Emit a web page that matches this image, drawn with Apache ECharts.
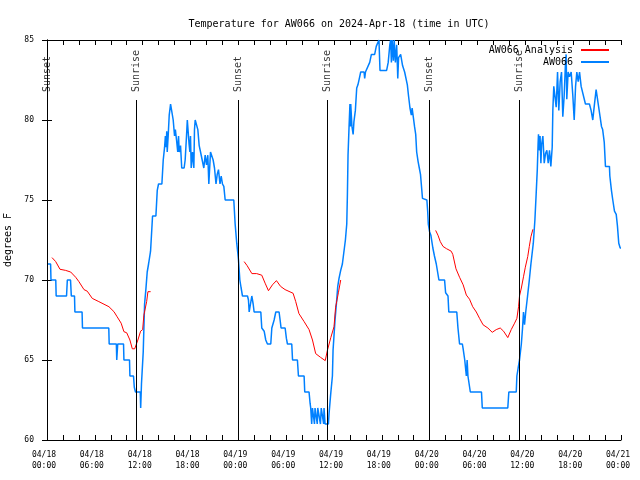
<!DOCTYPE html>
<html><head><meta charset="utf-8">
<script src="https://cdn.jsdelivr.net/npm/echarts@6/dist/echarts.min.js"></script>
<style>html,body{margin:0;padding:0;background:#fff}#c{width:640px;height:480px}</style>
</head><body><div id="c"></div>
<script>
// Hours since 04/18 00:00 UTC
const xTickLabels = ["04/18\n00:00","04/18\n06:00","04/18\n12:00","04/18\n18:00","04/19\n00:00","04/19\n06:00","04/19\n12:00","04/19\n18:00","04/20\n00:00","04/20\n06:00","04/20\n12:00","04/20\n18:00","04/21\n00:00"];
const sunEventHours = [0, 11.19, 23.95, 35.13, 48.0, 59.2];
const sunEventNames = ["Sunset","Sunrise","Sunset","Sunrise","Sunset","Sunrise"];

// AW066 observations
const obsHours = [0,0.45,0.5,1.1,1.15,2.45,2.55,2.95,3.05,3.45,3.5,4.4,4.45,7.75,7.8,8.7,8.75,8.82,8.87,9.6,9.65,10.35,10.4,10.85,10.95,11.1,11.7,11.75,11.85,12.07,12.24,12.4,12.57,12.74,12.99,13.16,13.24,13.66,13.83,13.99,14.41,14.58,14.75,14.85,14.95,15.02,15.08,15.2,15.33,15.5,15.75,15.83,16.0,16.1,16.25,16.4,16.5,16.58,16.75,16.9,17.2,17.33,17.5,17.6,17.75,17.82,17.92,18.0,18.09,18.25,18.42,18.5,18.59,18.76,18.92,19.09,19.26,19.51,19.67,19.84,20.01,20.17,20.3,20.51,20.76,20.84,21.01,21.2,21.35,21.51,21.7,21.85,22.01,22.18,22.35,23.43,23.6,23.8,23.93,24.02,
24.19,24.35,24.52,25.15,25.27,25.36,25.56,25.69,25.8,25.86,25.98,26.82,26.94,27.24,27.44,27.65,28.07,28.2,28.49,28.7,29.11,29.24,29.36,29.87,30.03,30.16,30.7,30.8,31.41,31.54,32.25,32.33,32.87,33.0,33.08,33.2,33.3,33.45,33.55,33.62,33.79,33.9,33.96,34.2,34.3,34.4,34.63,34.7,34.75,34.85,34.88,35.3,35.38,35.59,35.8,35.88,36.13,36.3,36.47,36.63,36.84,37.05,37.13,37.43,37.6,37.68,37.76,37.89,38.0,38.05,38.1,38.25,38.4,38.5,38.68,38.85,39.0,39.18,39.35,
39.77,39.85,39.95,40.2,40.48,40.69,41.1,41.3,41.5,41.64,41.77,42.6,42.8,43.0,43.1,43.2,43.3,43.45,43.55,43.7,43.86,43.95,44.0,44.1,44.36,44.6,44.86,45.2,45.35,45.53,45.7,45.8,45.95,46.1,46.25,46.37,46.55,46.7,46.85,46.95,47.1,47.65,47.75,47.83,48.0,48.15,48.4,48.6,48.83,49.16,49.87,50.0,50.3,50.4,51.4,51.55,51.75,52.1,52.2,52.4,52.6,52.7,52.8,53.1,54.5,54.6,57.8,57.93,58.86,58.94,59.1,59.27,59.5,59.65,59.77,59.9,60.05,60.28,60.5,60.7,61.0,61.2,61.36,61.5,61.6,61.65,61.78,61.85,61.95,62.05,62.2,62.37,62.53,62.7,62.87,63.03,63.2,63.37,63.45,63.57,63.7,63.87,64.04,64.2,64.37,64.54,64.7,64.87,65.04,65.12,65.2,65.37,65.54,65.75,65.96,66.13,66.3,66.46,66.63,66.8,67.0,67.2,67.54,68.04,68.25,68.46,68.63,68.88,69.05,69.2,69.38,69.55,69.7,69.9,70.05,70.55,70.6,70.8,70.97,71.18,71.4,71.55,71.72,71.9,72];
const obsTemps = [71,71,70,70,69,69,70,70,69,69,68,68,67,67,66,66,65,65,66,66,65,65,64,64,63.3,63,63,62,63.5,65.5,68.5,69.4,70.5,71,71.8,73.3,74,74,75.6,76,76,77.5,78.3,79,78.3,79.3,78,79,80.3,81,81,80,79,79.4,78.75,78,79,78,78.4,77,77,77.5,79,80,80,78.5,78,79,77,78,77,79.4,80,80,79.4,78.4,78,78,77,77.8,77.2,77.8,76,78,78,77.5,77,76,76.6,76.9,76,76.5,76,75.85,75,75,73.5,72.3,71.7,71.25,
70,69.5,69,69,68.75,68,68,69,69,68.5,68,68,67,66.8,66.25,66,66,67,67.5,68,68,67.5,67,67,66.35,66,66,65,65,64,64,63,63,62.3,62,61,62,62,61,62,62,61,62,62,61,62,62,61,62,62,61,61,61.65,62.9,64,65.6,67.5,68.5,69.6,70.1,70.6,71,71,72.5,73.5,75.3,77.8,79.6,81,79.6,81,79.6,79.1,79.9,80.6,82,82.2,82.6,83,
83,82.6,83,83,83.6,84.1,84.1,84.6,84.6,85,83.1,83.1,83.6,84.7,85,83.6,85,83.7,85,83.6,84.7,83.4,82.6,83.9,84.1,83.4,83.0,82.2,81.5,80.75,80.3,80.75,80.7,79.6,79.1,78.0,77.4,77.0,76.6,76.0,75.1,75,74.3,73.5,73,72.8,72,71.5,71,70,70,69.2,69,68,68,67,66,66,65.7,65,64,65,64,63,63,62,62,63,63,64,64.5,65,66,67,68,67.2,68,69,70,71,72.3,73.75,75.4,76.9,78.5,79.1,78.1,79,77.3,78.5,79,77.3,77.9,78.1,77.3,78.1,77.1,78.3,80.6,82.1,82.1,80.8,83.0,80.6,82.4,83.0,80.2,81.5,83.6,84.1,81.3,83.0,82.7,83.0,81.5,80.0,82.1,83.0,82.4,83.0,82.1,82.1,81.0,81.0,80.6,80.0,80.8,81.9,81.8,80.8,80.2,79.6,79.4,78.6,77.1,77.1,76.5,75.6,75,74.3,74.1,73.4,72.3,72.0,72];

// AW066 Analysis (null = gap)
const anaHours = [0.63,1.09,1.63,2.34,2.97,3.6,4.0,4.64,5.05,5.68,6.5,7.77,8.4,8.8,9.3,9.65,10.0,10.4,10.7,11.0,11.4,11.74,12.0,12.15,12.5,12.66,13.0,13.5,
24.73,25.1,25.7,26.3,26.94,27.36,27.78,28.28,28.78,29.3,29.86,30.87,31.2,31.6,32.25,32.87,33.3,33.7,34.3,34.9,35.17,35.6,36.0,36.2,36.55,36.84,37.5,
48.75,49.04,49.33,49.67,50.1,50.7,50.9,51.3,51.75,52.2,52.6,53.0,53.4,53.85,54.26,54.7,55.3,55.85,56.35,56.85,57.27,57.8,58.23,58.65,58.94,59.15,59.27,59.5,59.77,60.0,60.3,60.5,60.7,60.95];
const anaTemps = [71.4,71.15,70.67,70.6,70.5,70.17,69.9,69.4,69.3,68.85,68.65,68.33,68.02,67.7,67.3,66.77,66.7,66.25,65.7,65.7,66.25,66.8,66.9,67.8,68.65,69.27,69.27,null,
71.15,70.9,70.4,70.4,70.3,69.8,69.33,69.7,69.96,69.6,69.4,69.17,68.65,67.9,67.4,66.9,66.25,65.4,65.17,64.96,65.6,66.4,67.08,68.3,69.2,70.0,null,
73.1,72.8,72.4,72.1,71.96,71.8,71.6,70.7,70.17,69.7,69.06,68.8,68.33,68.0,67.6,67.2,67.0,66.73,66.9,67.0,66.8,66.4,66.9,67.3,67.6,68.33,69.0,69.5,70.2,70.8,71.46,72.1,72.7,73.17];

const FONT = 'DejaVu Sans Mono';
const chart = echarts.init(document.getElementById('c'), null, {renderer: 'canvas'});
const obsData = obsHours.map((h, i) => [h, obsTemps[i]]);
const anaData = anaHours.map((h, i) => [h, anaTemps[i] === null ? '-' : anaTemps[i]]);
const sunData = sunEventHours.map(h => [h, 81.75]);
const axisCommon = {
  type: 'value', min: 0, max: 72, interval: 6,
  axisLine: {show: true, onZero: false, lineStyle: {color: '#000', width: 1}},
  axisTick: {show: true, inside: true, length: 5, lineStyle: {color: '#000'}},
  minorTick: {show: true, splitNumber: 3, length: 5, lineStyle: {color: '#000'}},
  splitLine: {show: false}, minorSplitLine: {show: false}
};
chart.setOption({
  animation: false,
  backgroundColor: '#fff',
  title: {
    text: 'Temperature for AW066 on 2024-Apr-18 (time in UTC)',
    left: 334, top: 14, textAlign: 'center',
    textStyle: {fontFamily: FONT, fontSize: 10, fontWeight: 'normal', color: '#000'}
  },
  legend: {
    data: ['AW066 Analysis', 'AW066'],
    orient: 'vertical', right: 31, top: 44, align: 'right',
    itemWidth: 28, itemHeight: 2, itemGap: 0, icon: 'rect', padding: 0,
    textStyle: {fontFamily: FONT, fontSize: 10, color: '#000', lineHeight: 12, padding: [0, 3, 0, 0]}
  },
  grid: {left: 47, right: 19, top: 40, bottom: 40, containLabel: false, outerBoundsMode: 'none'},
  xAxis: [
    Object.assign({}, axisCommon, {
      position: 'bottom',
      axisLabel: {
        fontFamily: FONT, fontSize: 8, color: '#000', margin: 9, lineHeight: 11,
        padding: [0, 6, 0, 0],
        formatter: v => xTickLabels[Math.round(v / 6)]
      }
    }),
    Object.assign({}, axisCommon, {position: 'top', axisLabel: {show: false}})
  ],
  yAxis: [
    {
      type: 'value', min: 60, max: 85, interval: 5, position: 'left',
      name: 'degrees F', nameLocation: 'middle', nameGap: 32, nameRotate: 90,
      nameTextStyle: {fontFamily: FONT, fontSize: 10, color: '#000'},
      axisLine: {show: true, lineStyle: {color: '#000', width: 1}},
      axisTick: {show: true, inside: true, length: 5, lineStyle: {color: '#000'}},
      axisLabel: {fontFamily: FONT, fontSize: 8, color: '#000', margin: 13},
      splitLine: {show: false}
    },
    {
      type: 'value', min: 60, max: 85, interval: 5, position: 'right',
      axisLine: {show: true, lineStyle: {color: '#000', width: 1}},
      axisTick: {show: true, inside: true, length: 5, lineStyle: {color: '#000'}},
      axisLabel: {show: false}, splitLine: {show: false}
    }
  ],
  series: [
    {
      name: 'AW066', type: 'line', data: obsData, showSymbol: false, symbol: 'none',
      lineStyle: {color: '#0080ff', width: 1.5}, itemStyle: {color: '#0080ff'},
      connectNulls: false, z: 3
    },
    {
      name: 'AW066 Analysis', type: 'line', data: anaData, showSymbol: false, symbol: 'none',
      lineStyle: {color: '#ff0000', width: 1}, itemStyle: {color: '#ff0000'},
      connectNulls: false, z: 4
    },
    {
      name: 'sun', type: 'scatter', data: sunData, symbolSize: 1,
      itemStyle: {color: 'rgba(0,0,0,0)'}, silent: true, z: 5,
      label: {
        show: true, position: 'inside', rotate: 90, align: 'left', verticalAlign: 'middle',
        fontFamily: FONT, fontSize: 10, color: '#000',
        formatter: p => sunEventNames[p.dataIndex]
      },
      markLine: {
        silent: true, symbol: ['none', 'none'], label: {show: false},
        lineStyle: {color: '#000', width: 1, type: 'solid'},
        data: sunEventHours.map(h => [{coord: [h, 60]}, {coord: [h, 81.25]}])
      }
    }
  ]
});
</script></body></html>
